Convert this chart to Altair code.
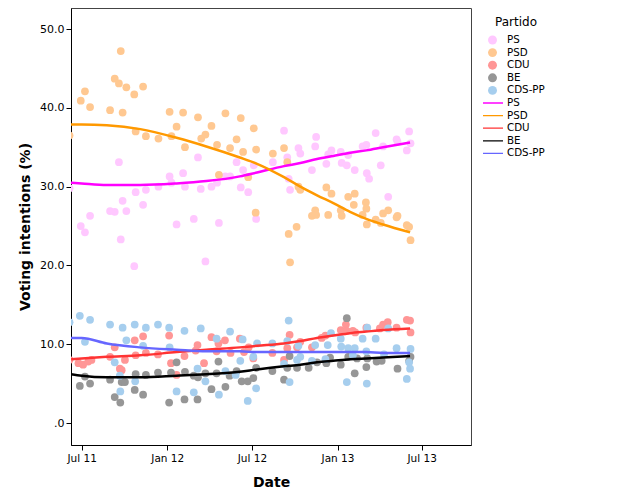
import altair as alt
import pandas as pd

parties = ["PS", "PSD", "CDU", "BE", "CDS-PP"]
point_colors = ["#FFC8FF", "#FFC891", "#FF9696", "#969696", "#A6CEEE"]
line_colors = ["#FF00FF", "#FF9900", "#FF3333", "#000000", "#6666FF"]

ps_dates = ["2011-06-05", "2011-06-29", "2011-07-08", "2011-07-19", "2011-08-31", "2011-09-10", "2011-09-19",
            "2011-09-23", "2011-09-27", "2011-10-05", "2011-10-22", "2011-10-25", "2011-11-10",
            "2011-11-16", "2011-12-13", "2012-01-06", "2012-01-10", "2012-01-21", "2012-02-04",
            "2012-02-08", "2012-02-27", "2012-03-07", "2012-03-13", "2012-03-23", "2012-04-05",
            "2012-04-17", "2012-04-21", "2012-05-05", "2012-05-15", "2012-05-29", "2012-06-07",
            "2012-06-12", "2012-06-23", "2012-07-05", "2012-07-10", "2012-08-15", "2012-09-08",
            "2012-09-15", "2012-09-18", "2012-09-21", "2012-10-09", "2012-10-13", "2012-11-07",
            "2012-11-14", "2012-11-16", "2012-12-08", "2012-12-12", "2012-12-19", "2013-01-08",
            "2013-01-10", "2013-01-21", "2013-01-24", "2013-02-07", "2013-02-24", "2013-03-04",
            "2013-03-05", "2013-03-10", "2013-03-24", "2013-04-04", "2013-04-09", "2013-04-20",
            "2013-05-08", "2013-05-10", "2013-05-30", "2013-06-04", "2013-06-07"]
ps_values = [29.8, 25.0, 24.2, 26.3, 26.9, 26.8, 33.1,
             23.3, 28.2, 26.9, 19.9, 29.3, 27.7,
             29.6, 30.0, 31.3, 30.5, 25.2, 31.7,
             30.0, 25.9, 33.7, 29.7, 20.5, 30.0,
             30.5, 25.4, 31.3, 31.3, 33.1, 29.9,
             32.1, 29.3, 32.7, 25.9, 33.1, 37.1,
             33.7, 31.0, 29.6, 34.9, 34.2, 32.1,
             35.1, 36.3, 32.9, 34.1, 34.6, 34.4,
             33.0, 32.7, 34.0, 32.1, 35.1, 35.3,
             31.7, 31.0, 36.8, 32.7, 35.1, 28.7,
             36.0, 35.7, 34.6, 37.0, 35.5]

psd_dates = ["2011-06-05", "2011-06-29", "2011-07-08", "2011-07-19", "2011-08-31", "2011-09-10", "2011-09-19",
             "2011-09-23", "2011-09-27", "2011-10-05", "2011-10-22", "2011-10-25", "2011-11-10",
             "2011-11-16", "2011-12-13", "2012-01-06", "2012-01-10", "2012-01-21", "2012-02-04",
             "2012-02-08", "2012-03-07", "2012-03-14", "2012-03-23", "2012-04-05", "2012-04-17",
             "2012-04-21", "2012-05-05", "2012-05-15", "2012-05-29", "2012-06-07", "2012-06-12",
             "2012-06-23", "2012-07-05", "2012-07-10", "2012-07-09", "2012-08-15", "2012-09-08",
             "2012-09-15", "2012-09-18", "2012-09-21", "2012-10-05", "2012-10-09", "2012-10-13",
             "2012-11-07", "2012-11-14", "2012-11-16", "2012-12-08", "2012-12-12", "2012-12-19",
             "2013-01-08", "2013-01-10", "2013-01-24", "2013-02-05", "2013-02-07", "2013-02-24",
             "2013-03-03", "2013-03-04", "2013-03-05", "2013-03-24", "2013-04-04", "2013-04-09",
             "2013-04-20", "2013-05-08", "2013-05-10", "2013-05-30", "2013-06-04", "2013-06-07"]
psd_values = [36.5, 40.9, 42.1, 40.1, 39.7, 43.7, 43.1,
              47.2, 39.4, 42.6, 41.7, 37.0, 42.7,
              36.4, 36.1, 39.5, 36.4, 37.6, 39.4,
              35.0, 38.8, 36.1, 36.6, 37.7, 35.3,
              31.5, 39.3, 34.9, 36.0, 38.7, 34.4,
              31.2, 37.4, 34.7, 26.7, 34.2, 34.9,
              33.1, 24.0, 20.4, 24.9, 30.0, 29.6,
              26.3, 27.0, 26.4, 29.9, 26.4, 29.1,
              27.0, 26.3, 28.7, 27.7, 29.1, 26.4,
              28.0, 27.2, 25.2, 25.8, 25.4, 26.6,
              27.0, 26.1, 26.3, 25.1, 24.9, 23.2]

cdu_dates = ["2011-06-05", "2011-06-24", "2011-07-04", "2011-07-15", "2011-07-22", "2011-08-31", "2011-09-10",
             "2011-09-21", "2011-09-25", "2011-10-02", "2011-10-23", "2011-10-25", "2011-11-10",
             "2011-11-16", "2011-12-12", "2012-01-05", "2012-01-09", "2012-01-21", "2012-02-07",
             "2012-03-02", "2012-03-06", "2012-03-20", "2012-04-05", "2012-04-16", "2012-04-20",
             "2012-05-04", "2012-05-16", "2012-06-05", "2012-06-14", "2012-06-24", "2012-07-04",
             "2012-08-14", "2012-09-08", "2012-09-15", "2012-09-20", "2012-10-06", "2012-10-13",
             "2012-11-07", "2012-11-28", "2012-12-06", "2013-01-08", "2013-01-19", "2013-01-21",
             "2013-02-03", "2013-02-08", "2013-03-04", "2013-04-02", "2013-04-09", "2013-04-19",
             "2013-05-08", "2013-05-30", "2013-06-06", "2013-06-07"]
cdu_values = [8.0, 7.6, 7.4, 7.8, 8.0, 8.4, 9.6,
              6.9, 6.7, 8.0, 10.5, 8.6, 11.0,
              8.9, 8.7, 11.1, 7.6, 6.1, 8.5,
              9.2, 9.9, 7.6, 10.9, 9.1, 10.1,
              10.5, 8.9, 10.7, 9.0, 9.6, 8.2,
              8.9, 8.0, 9.5, 11.2, 9.6, 10.3,
              9.6, 10.8, 11.1, 11.8, 12.5, 11.7,
              11.7, 11.5, 12.1, 12.0, 12.5, 12.8,
              12.1, 13.1, 13.0, 11.5]

be_dates = ["2011-06-27", "2011-07-08", "2011-07-19", "2011-08-31", "2011-09-10", "2011-09-22",
            "2011-09-25", "2011-10-02", "2011-10-23", "2011-10-25", "2011-11-10", "2011-11-16",
            "2011-12-12", "2012-01-05", "2012-01-09", "2012-01-21", "2012-02-07", "2012-02-08",
            "2012-02-27", "2012-03-06", "2012-03-07", "2012-03-23", "2012-04-05", "2012-04-16",
            "2012-04-20", "2012-05-05", "2012-05-14", "2012-05-29", "2012-06-09", "2012-06-22",
            "2012-07-04", "2012-07-10", "2012-08-14", "2012-09-08", "2012-09-15", "2012-09-20",
            "2012-10-06", "2012-10-31", "2012-11-18", "2012-12-08", "2012-12-16", "2013-01-08",
            "2013-01-21", "2013-01-24", "2013-02-07", "2013-02-12", "2013-03-04", "2013-03-06",
            "2013-03-26", "2013-04-06", "2013-05-10", "2013-06-04", "2013-06-07"]
be_values = [4.7, 5.9, 5.0, 5.5, 3.3, 2.6,
             5.2, 5.2, 4.2, 6.2, 3.6, 6.1,
             6.4, 2.6, 6.4, 7.7, 3.0, 6.5,
             6.0, 3.0, 5.8, 6.3, 4.3, 6.3,
             7.8, 4.6, 6.0, 6.6, 5.3, 5.3,
             5.7, 7.0, 6.6, 5.5, 7.0, 8.5,
             7.0, 7.0, 7.7, 7.6, 8.3, 7.4,
             13.3, 8.4, 6.3, 8.2, 7.1, 8.2,
             7.8, 7.9, 6.9, 7.9, 8.4]

cds_dates = ["2011-06-05", "2011-06-27", "2011-07-08", "2011-07-19", "2011-08-31", "2011-09-10", "2011-09-21",
             "2011-09-22", "2011-09-27", "2011-10-05", "2011-10-23", "2011-10-24", "2011-11-10",
             "2011-11-16", "2011-12-12", "2012-01-05", "2012-01-06", "2012-01-21", "2012-02-07",
             "2012-02-27", "2012-03-06", "2012-03-13", "2012-03-23", "2012-04-16", "2012-04-21",
             "2012-05-05", "2012-05-15", "2012-05-27", "2012-06-06", "2012-06-11", "2012-06-22",
             "2012-07-04", "2012-07-10", "2012-07-12", "2012-08-14", "2012-09-08", "2012-09-15",
             "2012-09-18", "2012-09-20", "2012-10-06", "2012-10-09", "2012-10-13", "2012-11-07",
             "2012-11-14", "2012-12-06", "2012-12-11", "2012-12-18", "2013-01-08", "2013-01-09",
             "2013-01-21", "2013-01-24", "2013-02-03", "2013-02-07", "2013-02-24", "2013-03-04",
             "2013-03-05", "2013-03-06", "2013-03-24", "2013-04-11", "2013-04-20", "2013-05-08",
             "2013-05-30", "2013-06-04", "2013-06-06", "2013-06-07"]
cds_values = [12.8, 13.6, 10.3, 13.1, 12.5, 7.7, 6.0,
              4.0, 12.1, 10.5, 12.5, 5.3, 9.8,
              12.1, 12.5, 12.1, 9.6, 4.0, 11.7,
              3.9, 6.9, 12.0, 5.3, 10.7, 3.6,
              6.6, 11.6, 6.1, 7.9, 10.6, 2.8,
              8.4, 4.4, 10.1, 10.1, 7.5, 10.4,
              13.0, 5.2, 8.0, 9.8, 8.4, 7.9,
              9.9, 8.1, 9.9, 11.4, 10.7, 9.7,
              5.2, 9.5, 8.6, 9.5, 10.7, 9.1,
              5.0, 12.1, 10.7, 8.7, 12.0, 9.5,
              5.6, 7.7, 6.9, 9.4]

line_dates = ["2011-06-08", "2011-07-01", "2011-08-24", "2011-11-04", "2012-01-21", "2012-03-25",
              "2012-06-05", "2012-07-12", "2012-09-08", "2012-10-13", "2012-11-18", "2012-12-23",
              "2013-01-28", "2013-03-04", "2013-04-09", "2013-06-06"]
ps_line = [30.5, 30.4, 30.2, 30.2, 30.4, 30.7, 31.3, 31.8, 32.6, 33.0, 33.5, 33.9, 34.3, 34.6, 35.0, 35.6]
psd_line = [37.9, 37.9, 37.8, 37.3, 36.2, 35.1, 33.7, 32.9, 31.2, 30.0, 28.9, 27.9, 26.8, 25.9, 25.2, 24.2]
cdu_line = [8.1, 8.2, 8.4, 8.6, 9.0, 9.3, 9.6, 9.8, 10.1, 10.4, 10.8, 11.1, 11.4, 11.6, 11.8, 12.0]
be_line = [6.2, 6.0, 5.8, 5.8, 6.0, 6.2, 6.5, 6.8, 7.2, 7.4, 7.7, 7.9, 8.1, 8.2, 8.3, 8.5]
cds_line = [10.8, 10.8, 10.1, 9.6, 9.3, 9.1, 9.1, 9.0, 9.0, 9.0, 9.0, 9.0, 9.0, 9.0, 8.9, 8.9]

y_ticks = [0, 10, 20, 30, 40, 50]

point_sets = [(ps_dates, ps_values), (psd_dates, psd_values), (cdu_dates, cdu_values),
              (be_dates, be_values), (cds_dates, cds_values)]
line_sets = [ps_line, psd_line, cdu_line, be_line, cds_line]

rows = []
for party, (d, v) in zip(parties, point_sets):
    for di, vi in zip(d, v):
        rows.append({"date": di, "value": vi, "Partido": party})
points_df = pd.DataFrame(rows)

lrows = []
for party, vals in zip(parties, line_sets):
    for di, vi in zip(line_dates, vals):
        lrows.append({"date": di, "value": vi, "Linha": party})
lines_df = pd.DataFrame(lrows)

FONT = "DejaVu Sans"

x_scale = alt.Scale(type="utc", domain=[alt.DateTime(year=2011, month=6, date=8, utc=True),
                                       alt.DateTime(year=2013, month=10, date=15, utc=True)])
x_ticks = [alt.DateTime(year=y, month=m, date=1, utc=True)
           for (y, m) in [(2011, 7), (2012, 1), (2012, 7), (2013, 1), (2013, 7)]]
y_scale = alt.Scale(domain=[-2.79, 52.67], nice=False, zero=False)

x_enc = alt.X("date:T", scale=x_scale,
              axis=alt.Axis(title="Date", values=x_ticks,
                            labelExpr="utcFormat(datum.value, '%b %y')",
                            grid=False, tickSize=5, labelPadding=3, titlePadding=12,
                            labelFontSize=10.5, titleFontSize=14, titleFontWeight="bold",
                            domainColor="#000000", tickColor="#000000", labelColor="#000000",
                            titleColor="#000000", labelFont=FONT, titleFont=FONT))
y_enc = alt.Y("value:Q", scale=y_scale,
              axis=alt.Axis(title="Voting intentions (%)", values=y_ticks,
                            labelExpr="datum.value == 0 ? '.0' : format(datum.value, '.1f')",
                            grid=False, tickSize=5, labelPadding=2, titlePadding=7.5,
                            labelFontSize=11, titleFontSize=14, titleFontWeight="bold",
                            domainColor="#000000", tickColor="#000000", labelColor="#000000",
                            titleColor="#000000", labelFont=FONT, titleFont=FONT))

pts = alt.Chart(points_df).mark_circle(size=60, opacity=1, clip=True).encode(
    x=x_enc,
    y=y_enc,
    color=alt.Color("Partido:N",
                    scale=alt.Scale(domain=parties, range=point_colors),
                    legend=alt.Legend(title="Partido", symbolType="circle", symbolSize=80,
                                      symbolOpacity=1, clipHeight=12, rowPadding=0.6,
                                      titleFontSize=12, titleFontWeight="normal",
                                      titleAnchor="middle",
                                      labelFontSize=10.3, titleFont=FONT, labelFont=FONT,
                                      titlePadding=5, labelOffset=9,
                                      orient="none", legendX=416, legendY=9)),
)

lns = alt.Chart(lines_df).mark_line(strokeWidth=2.5, interpolate="monotone", clip=True).encode(
    x=alt.X("date:T", scale=x_scale),
    y=alt.Y("value:Q", scale=y_scale),
    color=alt.Color("Linha:N",
                    scale=alt.Scale(domain=parties, range=line_colors),
                    legend=alt.Legend(title=None, symbolType="stroke", symbolSize=400,
                                      symbolStrokeWidth=1.3, clipHeight=12, rowPadding=0.6,
                                      labelFontSize=10.3, labelFont=FONT, labelOffset=3,
                                      orient="none", legendX=411, legendY=89)),
)

chart = alt.layer(pts, lns).resolve_scale(color="independent").properties(
    width=400, height=437,
    padding={"left": 63, "top": 0, "right": 150, "bottom": 50},
    autosize=alt.AutoSizeParams(type="none"),
).configure_view(stroke="#444444", strokeWidth=1).configure_legend(
    labelColor="#000000", titleColor="#000000"
)

chart.save("out.html", embed_options={"renderer": "svg", "actions": False})
